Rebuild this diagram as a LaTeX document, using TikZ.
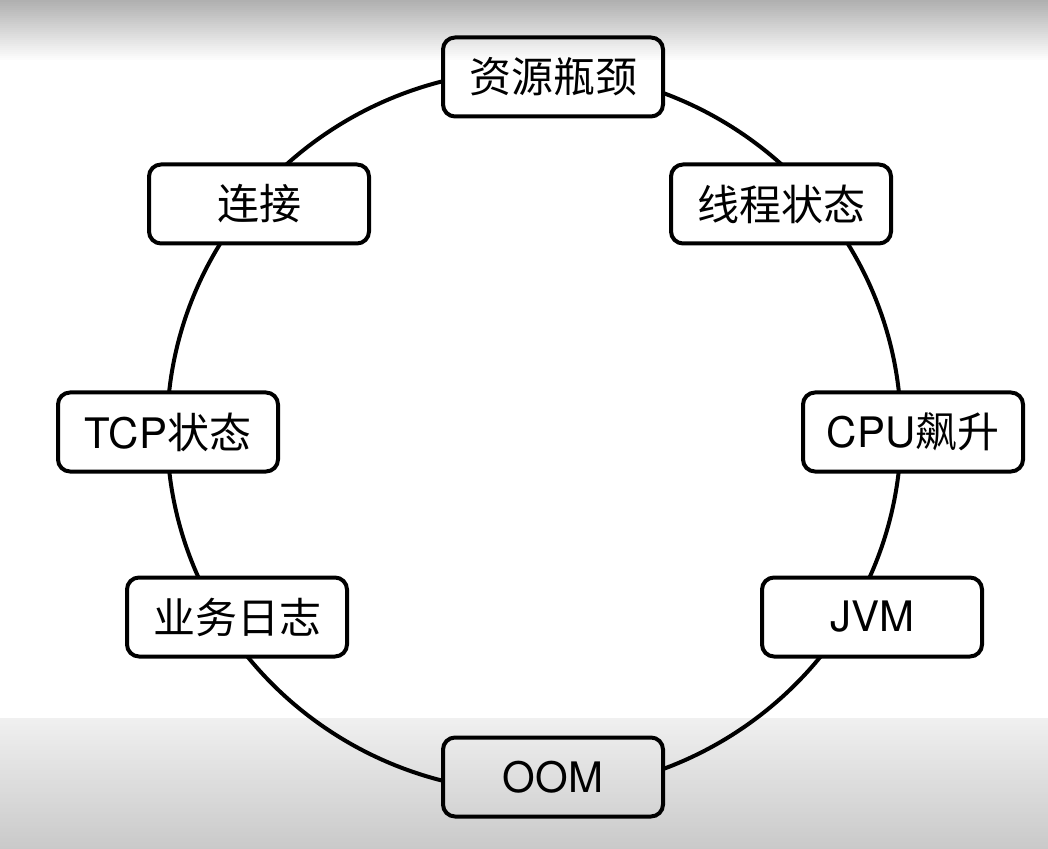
\documentclass[tikz,border=0pt]{standalone}
\usepackage{fontspec}
\setmainfont{TeX Gyre Heros}
\newfontfamily\cjk{Noto Sans CJK SC}

\begin{document}
\begin{tikzpicture}[x=0.5pt, y=-0.5pt,
  box/.style={draw, line width=2pt, rounded corners=6pt, fill=white,
    minimum width=110pt, minimum height=39.5pt, inner sep=0pt,
    font=\fontsize{21}{25}\selectfont}]
  \useasboundingbox (0,0) rectangle (1048,849);
  \fill[white] (0,0) rectangle (1048,849);
  % ring behind the boxes
  \coordinate (o) at (534,431);
  \draw[line width=2pt] (o) ellipse [x radius=367, y radius=361];
  \node[box] (neck) at (553,77) {\cjk 资源瓶颈};
  \node[box] (conn) at (259,204) {\cjk 连接};
  \node[box] (thread) at (781,204) {\cjk 线程状态};
  \node[box] (tcp) at (168,432) {TCP\cjk 状态};
  \node[box] (cpu) at (913,432) {CPU\cjk 飙升};
  \node[box] (log) at (237,617) {\cjk 业务日志};
  \node[box] (jvm) at (872,617) {JVM};
  \node[box] (oom) at (553,777) {OOM};
  % grey bands on top and bottom
  \foreach \i [evaluate=\i as \op using 0.31*(1-\i/30)] in {0,...,29}
    \fill[black, opacity=\op] (0,2*\i) rectangle (1048,2*\i+2);
  \foreach \i [evaluate=\i as \op using 0.06+0.15*\i/65] in {0,...,65}
    \fill[black, opacity=\op] (0,718+2*\i) rectangle (1048,720+2*\i);
\end{tikzpicture}
\end{document}
